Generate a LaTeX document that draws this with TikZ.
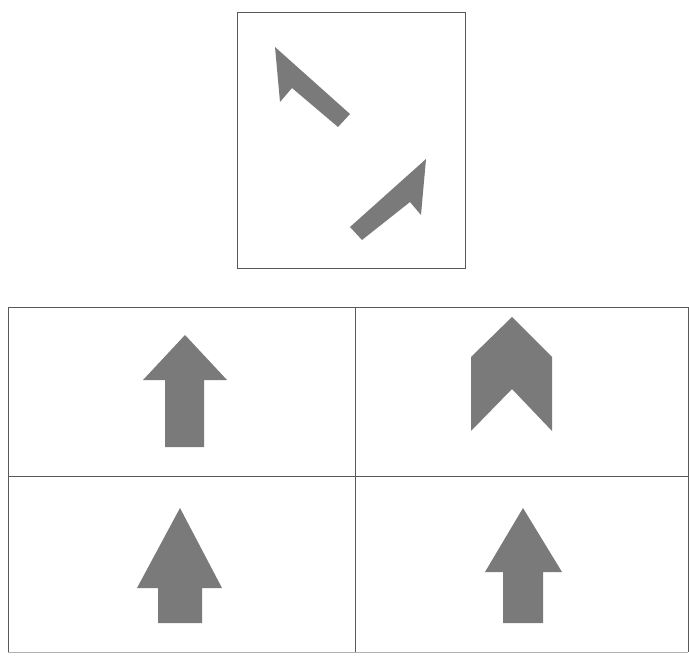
\documentclass[tikz,border=0pt]{standalone}
\begin{document}
\begin{tikzpicture}[x=1pt,y=-1pt,
  shapefill/.style={fill=black!52,draw=none},
  frameline/.style={draw=black!65,line width=0.9pt},
  faintline/.style={draw=black!30,line width=0.8pt}]
\useasboundingbox (0,0) rectangle (689,661);
% top box
\draw[frameline] (237,12) rectangle (465,268);
\fill[shapefill] (275,47) -- (350,114) -- (338,127) -- (292,88) -- (280,102) -- cycle;
\fill[shapefill] (426,159) -- (421,215) -- (410,202) -- (362,240) -- (350,227) -- cycle;
% grid
\draw[frameline] (8,652) -- (8,307) -- (688,307) -- (688,652);
\draw[faintline] (8,652) -- (688,652);
\draw[frameline] (8,476) -- (688,476);
\draw[frameline] (355,307) -- (355,652);
% arrow 1
\fill[shapefill] (185,335) -- (227,380) -- (204,380) -- (204,447) -- (165,447) -- (165,380) -- (143,380) -- cycle;
% chevron
\fill[shapefill] (512,317) -- (552,357) -- (552,431) -- (512,389) -- (471,431) -- (471,357) -- cycle;
% arrow 3
\fill[shapefill] (180,508) -- (222,588) -- (202,588) -- (202,623) -- (158,623) -- (158,588) -- (137,588) -- cycle;
% arrow 4
\fill[shapefill] (523,508) -- (562,572) -- (543,572) -- (543,623) -- (503,623) -- (503,572) -- (485,572) -- cycle;
\end{tikzpicture}
\end{document}
